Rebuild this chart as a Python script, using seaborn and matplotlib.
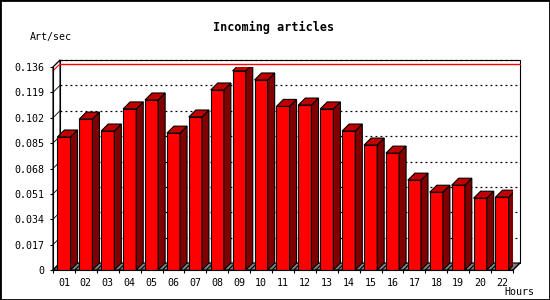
import numpy as np
import pandas as pd
import seaborn as sns
import matplotlib
matplotlib.use("Agg")
import matplotlib.pyplot as plt
from matplotlib.patches import Polygon, Rectangle

hours = ["01", "02", "03", "04", "05", "06", "07", "08", "09", "10", "11",
         "12", "13", "14", "15", "16", "17", "18", "19", "20", "22"]
rates = [0.0891, 0.1011, 0.0931, 0.1079, 0.1139, 0.0917, 0.1025, 0.1206,
         0.1334, 0.1273, 0.1096, 0.1105, 0.1079, 0.0931, 0.0837, 0.0783,
         0.0602, 0.0521, 0.0568, 0.0481, 0.0488]
yticks = [0, 0.017, 0.034, 0.051, 0.068, 0.085, 0.102, 0.119, 0.136]
ytick_labels = ["0", "0.017", "0.034", "0.051", "0.068", "0.085", "0.102", "0.119", "0.136"]
title = "Incoming articles"
ylabel = "Art/sec"
xlabel = "Hours"

sns.set_style("white")
mono = ["DejaVu Sans Mono"]
plt.rcParams["font.family"] = mono
for k in ["text.color", "xtick.color", "ytick.color", "axes.labelcolor", "axes.edgecolor"]:
    plt.rcParams[k] = "black"

W, H = 550, 300
fig = plt.figure(figsize=(W / 100, H / 100), dpi=100)
fig.patch.set_facecolor("white")
L_px, R_px, B_px, T_px = 53, 513, 270, 67
ax = fig.add_axes([L_px / W, 1 - B_px / H, (R_px - L_px) / W, (B_px - T_px) / H])

df = pd.DataFrame({"hour": hours, "rate": rates})
sns.barplot(data=df, x="hour", y="rate", color="#ff0000", saturation=1,
            width=0.6, edgecolor="black", linewidth=0.8, ax=ax, zorder=3)

n = len(hours)
xmin, xmax = -0.5, n - 0.5
ymax = yticks[-1]
ax.set_xlim(xmin, xmax)
ax.set_ylim(0, ymax)
pxx = (xmax - xmin) / (R_px - L_px)
pxy = ymax / (B_px - T_px)
DX, DY = 7 * pxx, 7 * pxy

# 3D sides and tops of bars
for p in list(ax.patches):
    x0 = p.get_x(); w = p.get_width(); h = p.get_height()
    x1 = x0 + w
    side = Polygon([(x1, 0), (x1 + DX, DY), (x1 + DX, h + DY), (x1, h)], closed=True,
                   facecolor="#800000", edgecolor="black", lw=0.8, zorder=3)
    top = Polygon([(x0, h), (x0 + DX, h + DY), (x1 + DX, h + DY), (x1, h)], closed=True,
                  facecolor="#c00000", edgecolor="black", lw=0.8, zorder=3)
    ax.add_patch(side); ax.add_patch(top)

# back wall
ax.add_patch(Rectangle((xmin + DX, DY), xmax - xmin, ymax, facecolor="white",
                       edgecolor="black", lw=0.8, zorder=0.5, clip_on=False))
# floor
ax.add_patch(Polygon([(xmin, 0), (xmax, 0), (xmax + DX, DY), (xmin + DX, DY)], closed=True,
                     facecolor="#808080", edgecolor="black", lw=0.8, zorder=1, clip_on=False))
for k in range(n + 1):
    xb = xmin + k
    ax.plot([xb, xb + DX], [0, DY], color="black", lw=0.8, zorder=1.2, clip_on=False)
# left wall
ax.add_patch(Polygon([(xmin, 0), (xmin + DX, DY), (xmin + DX, ymax + DY), (xmin, ymax)], closed=True,
                     facecolor="white", edgecolor="black", lw=0.8, zorder=0.6, clip_on=False))
# gridlines on back wall
for v in yticks[1:]:
    ax.plot([xmin + DX, xmax + DX], [v + DY, v + DY], color="black", lw=0.9,
            ls=(0, (1.5, 2.5)), zorder=1.5, clip_on=False)
    ax.plot([xmin, xmin + DX], [v, v + DY], color="black", lw=0.6, zorder=1.5, clip_on=False)
# max line
vmax = max(rates)
ax.plot([xmin + DX, xmax + DX], [vmax + DY, vmax + DY], color="red", lw=1.0, zorder=1.6, clip_on=False)
ax.plot([xmin, xmin + DX], [vmax, vmax + DY], color="red", lw=0.8, zorder=1.6, clip_on=False)

ax.patch.set_visible(False)
for s in ["top", "right"]:
    ax.spines[s].set_visible(False)
for s in ["left", "bottom"]:
    ax.spines[s].set_linewidth(0.8)
    ax.spines[s].set_color("black")
    ax.spines[s].set_zorder(4)

ax.set_yticks(yticks)
ax.set_yticklabels(ytick_labels)
ax.set_xticks(range(n))
ax.set_xticklabels(hours)
ax.set_xticks(np.arange(n + 1) - 0.5, minor=True)
ax.tick_params(axis="y", which="major", length=2.5, width=0.8, pad=3.5, labelsize=7.2,
               left=True, direction="out", colors="black")
ax.tick_params(axis="x", which="major", length=0, pad=5.5, labelsize=7.2, colors="black")
ax.tick_params(axis="x", which="minor", length=2.5, width=0.8, bottom=True, direction="out", colors="black")
ax.set_xlabel(""); ax.set_ylabel("")

fig.text(273.5 / W, 1 - 27 / H, title, ha="center", va="center", fontsize=8.5,
         fontweight="bold", family=mono, color="black")
fig.text(30 / W, 1 - 37 / H, ylabel, ha="left", va="center", fontsize=7.2, family=mono, color="black")
fig.text(534 / W, 1 - 292 / H, xlabel, ha="right", va="center", fontsize=7.2, family=mono, color="black")
fig.patches.append(Rectangle((0, 0), 1, 1, transform=fig.transFigure, fill=False,
                             edgecolor="black", lw=2, zorder=10))

fig.savefig("out.png", dpi=100)
